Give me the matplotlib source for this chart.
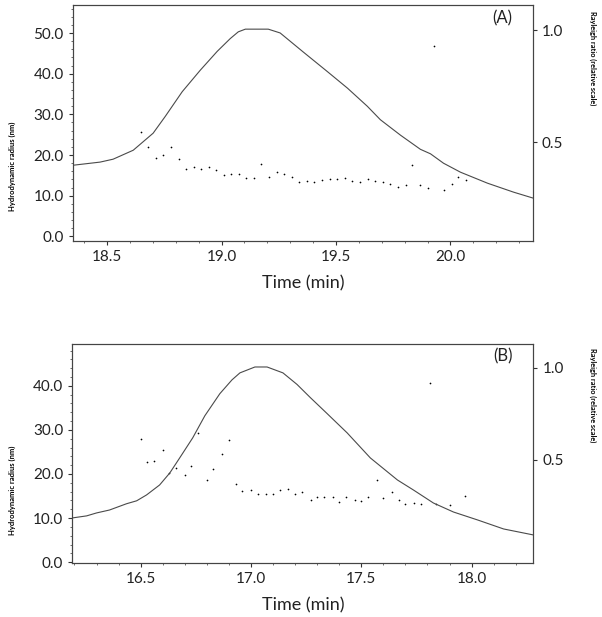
import numpy as np
import matplotlib.pyplot as plt
from matplotlib.ticker import MultipleLocator

plt.rcParams['font.family'] = ['Lato', 'DejaVu Sans']

# panel A: Rayleigh ratio trace (relative scale)
time_a_line = [18.351, 18.469, 18.526, 18.614, 18.701, 18.754, 18.828, 18.907, 18.981, 19.038,
               19.073, 19.104, 19.204, 19.256, 19.357, 19.462, 19.550, 19.637, 19.694, 19.782,
               19.869, 19.913, 19.970, 20.044, 20.162, 20.276, 20.363]
ratio_a = [0.397, 0.411, 0.424, 0.464, 0.540, 0.615, 0.725, 0.821, 0.905, 0.962,
           0.992, 1.004, 1.004, 0.987, 0.902, 0.815, 0.741, 0.660, 0.600, 0.531,
           0.468, 0.448, 0.406, 0.366, 0.317, 0.277, 0.250]

# panel A: hydrodynamic radius (nm)
time_a_rh = [18.649, 18.679, 18.714, 18.745, 18.780, 18.815, 18.846, 18.881, 18.911, 18.946,
             18.977, 19.012, 19.042, 19.077, 19.108, 19.143, 19.174, 19.209, 19.244, 19.274,
             19.309, 19.340, 19.375, 19.406, 19.440, 19.475, 19.506, 19.541, 19.572, 19.607,
             19.642, 19.672, 19.707, 19.738, 19.773, 19.804, 19.834, 19.869, 19.904, 19.930,
             19.970, 20.005, 20.035, 20.070]
rh_a = [25.6, 21.9, 19.2, 20.0, 21.9, 19.0, 16.5, 17.0, 16.5, 17.0,
        16.3, 15.0, 15.3, 15.3, 14.3, 14.3, 17.7, 14.5, 15.8, 15.3,
        14.5, 13.3, 13.5, 13.3, 13.8, 14.0, 14.0, 14.3, 13.5, 13.3,
        14.0, 13.5, 13.3, 12.8, 12.1, 12.6, 17.5, 12.6, 11.8, 46.8,
        11.3, 12.8, 14.5, 13.8]

# panel B: Rayleigh ratio trace
time_b_line = [16.191, 16.255, 16.300, 16.359, 16.436, 16.482, 16.527, 16.586, 16.632, 16.677,
               16.736, 16.791, 16.859, 16.914, 16.950, 17.018, 17.073, 17.145, 17.209, 17.268,
               17.345, 17.436, 17.541, 17.664, 17.736, 17.827, 17.918, 18.027, 18.145, 18.282]
ratio_b = [0.185, 0.196, 0.212, 0.228, 0.262, 0.278, 0.310, 0.364, 0.429, 0.511,
           0.620, 0.740, 0.860, 0.935, 0.973, 1.005, 1.005, 0.973, 0.910, 0.840,
           0.752, 0.647, 0.511, 0.391, 0.337, 0.266, 0.217, 0.174, 0.125, 0.092]

# panel B: hydrodynamic radius
time_b_rh = [16.50, 16.53, 16.56, 16.60, 16.63, 16.66, 16.70, 16.73, 16.76, 16.80,
             16.83, 16.87, 16.90, 16.93, 16.96, 17.00, 17.03, 17.07, 17.10, 17.13,
             17.17, 17.20, 17.23, 17.27, 17.30, 17.33, 17.37, 17.40, 17.43, 17.47,
             17.50, 17.53, 17.57, 17.60, 17.64, 17.67, 17.70, 17.74, 17.77, 17.81,
             17.84, 17.90, 17.97]
rh_b = [27.9, 22.7, 23.0, 25.5, 20.3, 21.4, 19.7, 21.8, 29.2, 18.6,
        21.1, 24.6, 27.7, 17.7, 16.1, 16.4, 15.5, 15.5, 15.5, 16.3,
        16.5, 15.4, 16.0, 14.2, 14.8, 14.8, 14.7, 13.7, 14.7, 14.2,
        13.9, 14.8, 18.7, 14.5, 16.0, 14.1, 13.2, 13.5, 13.2, 40.7,
        13.1, 13.0, 15.1]

fig = plt.figure(figsize=(6.02, 6.17), dpi=100)

panels = [
    dict(rect=[0.121, 0.609, 0.764, 0.383], t_line=time_a_line, ratio=ratio_a,
         t_rh=time_a_rh, rh=rh_a, xlim=(18.35, 20.36), ylim=(-1.2, 56.9),
         y2lim=(0.058, 1.112), xticks=[18.5, 19.0, 19.5, 20.0],
         yticks=[0, 10, 20, 30, 40, 50], tag='(A)', ylab_y=0.73, y2lab_y=0.905),
    dict(rect=[0.120, 0.0875, 0.766, 0.355], t_line=time_b_line, ratio=ratio_b,
         t_rh=time_b_rh, rh=rh_b, xlim=(16.19, 18.28), ylim=(-0.2, 49.5),
         y2lim=(-0.06, 1.13), xticks=[16.5, 17.0, 17.5, 18.0],
         yticks=[0, 10, 20, 30, 40], tag='(B)', ylab_y=0.205, y2lab_y=0.36),
]

for p in panels:
    ax = fig.add_axes(p['rect'])
    ax2 = ax.twinx()
    ax.scatter(p['t_rh'], p['rh'], s=1.5, color='black', linewidths=0)
    ax2.plot(p['t_line'], p['ratio'], color='#4a4a4a', linewidth=0.8)

    ax.set_xlim(*p['xlim'])
    ax.set_ylim(*p['ylim'])
    ax2.set_ylim(*p['y2lim'])
    ax.set_xticks(p['xticks'])
    ax.set_xticklabels(['%.1f' % v for v in p['xticks']])
    ax.xaxis.set_minor_locator(MultipleLocator(0.1))
    ax.set_yticks(p['yticks'])
    ax.set_yticklabels(['%.1f' % v for v in p['yticks']])
    ax.yaxis.set_minor_locator(MultipleLocator(2))
    ax2.set_yticks([0.5, 1.0])
    ax2.set_yticklabels(['0.5', '1.0'])

    for a in (ax, ax2):
        a.tick_params(which='major', length=3, width=0.8, labelsize=11, colors='#333333',
                      labelcolor='#222222')
        a.tick_params(which='minor', length=1.5, width=0.6, colors='#555555')
        for s in a.spines.values():
            s.set_color('#444444')
            s.set_linewidth(0.8)
    ax.set_xlabel('Time (min)', fontsize=13, color='#222222', labelpad=8)
    ax.text(0.955, 0.945, p['tag'], transform=ax.transAxes, fontsize=12,
            ha='right', va='center', color='#222222')

    fig.text(0.02, p['ylab_y'], 'Hydrodynamic radius (nm)', rotation=90, fontsize=5.5,
             fontweight='bold', ha='center', va='center')
    fig.text(0.985, p['y2lab_y'], 'Rayleigh ratio (relative scale)', rotation=270,
             fontsize=5.3, fontweight='bold', ha='center', va='center')

fig.savefig('out.png', dpi=100)
